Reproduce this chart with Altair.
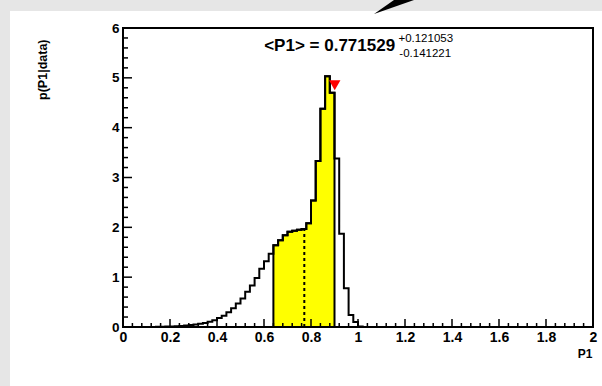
import altair as alt
import pandas as pd

# ---------------- data ----------------
bin_width = 0.02
first_edge = 0.14
density = [0.004, 0.006, 0.008, 0.010, 0.015, 0.020, 0.028, 0.038, 0.050, 0.064,
           0.082, 0.105, 0.135, 0.180, 0.225, 0.295, 0.375, 0.470, 0.570, 0.705,
           0.835, 0.985, 1.170, 1.320, 1.470, 1.640, 1.740, 1.840, 1.910, 1.930,
           1.950, 1.965, 2.080, 2.540, 3.330, 4.380, 5.030, 4.700, 3.380, 1.870,
           0.780, 0.240, 0.100, 0.010]
x_range = [0, 2]
y_range = [0, 6]
mean = 0.771529
err_plus = 0.121053
err_minus = 0.141221
marker_x = [0.901]
marker_y = [4.85]
x_major = [0, 0.2, 0.4, 0.6, 0.8, 1.0, 1.2, 1.4, 1.6, 1.8, 2.0]
y_major = [0, 1, 2, 3, 4, 5, 6]
x_minor_step = 0.04
y_minor_step = 0.2
label_main = "<P1> = 0.771529"
label_plus = "+0.121053"
label_minus = "-0.141221"

# ---------------- tables ----------------
n_bins = round((x_range[1] - x_range[0]) / bin_width)
vals = [0.0] * n_bins
start = round(first_edge / bin_width)
for i, v in enumerate(density):
    vals[start + i] = v
outline = pd.DataFrame(
    [{"x": round(x_range[0] + i * bin_width, 4), "y": vals[i]} for i in range(n_bins)]
    + [{"x": x_range[1], "y": 0.0}]
)
lo, hi = mean - err_minus, mean + err_plus
shade_rows = []
for i in range(n_bins):
    c = x_range[0] + (i + 0.5) * bin_width
    if lo <= c <= hi:
        shade_rows.append({"x": round(x_range[0] + i * bin_width, 4), "y": vals[i]})
shade_rows.append({"x": round(shade_rows[-1]["x"] + bin_width, 4), "y": shade_rows[-1]["y"]})
shade = pd.DataFrame(shade_rows)
mean_df = pd.DataFrame({"x": [mean], "y0": [0.0], "y1": [vals[int(mean / bin_width)]]})
marker_df = pd.DataFrame({"x": marker_x, "y": marker_y})

n_xm = round((x_range[1] - x_range[0]) / x_minor_step)
x_minor = [round(k * x_minor_step, 4) for k in range(n_xm + 1)]
x_minor = [v for v in x_minor if all(abs(v - m) > 1e-6 for m in x_major)]
n_ym = round((y_range[1] - y_range[0]) / y_minor_step)
y_minor = [round(k * y_minor_step, 4) for k in range(n_ym + 1)]
y_minor = [v for v in y_minor if all(abs(v - m) > 1e-6 for m in y_major)]

# ---------------- style ----------------
W, H = 470, 299
PAD_L, PAD_T = 123, 28
FONT = "Liberation Sans"
one = alt.Data(values=[{}])

xs = alt.Scale(domain=x_range, nice=False, zero=False)
ys = alt.Scale(domain=y_range, nice=False, zero=False)
x_axis = alt.Axis(values=x_major, format=".1~f", ticks=False, tickSize=0, domain=False,
                  grid=False, labelFont=FONT, labelFontWeight="bold", labelFontSize=14,
                  labelColor="black", labelPadding=3, labelFlush=False, labelOverlap=False,
                  title="P1", titleFont=FONT, titleFontWeight="bold", titleFontSize=12,
                  titleColor="black", titleAnchor="end", titleAlign="right",
                  titleBaseline="middle", titleX=W - 1, titleY=26, zindex=1)
y_axis = alt.Axis(values=y_major, format="d", ticks=False, tickSize=0, domain=False,
                  grid=False, labelFont=FONT, labelFontWeight="bold", labelFontSize=13.5,
                  labelColor="black", labelPadding=4, labelFlush=False, labelOverlap=False,
                  title="p(P1|data)", titleFont=FONT, titleFontWeight="bold",
                  titleFontSize=12.5, titleColor="black", titleAngle=270,
                  titleAlign="right", titleBaseline="middle", titleX=-81, titleY=11,
                  zindex=1)

def X(f="x"):
    return alt.X(f"{f}:Q", scale=xs, axis=x_axis)

def Y(f="y"):
    return alt.Y(f"{f}:Q", scale=ys, axis=y_axis)

pad = alt.Chart(one).mark_rect(color="white").encode(
    x=alt.value(10 - PAD_L), x2=alt.value(602 - PAD_L),
    y=alt.value(11 - PAD_T), y2=alt.value(386 - PAD_T))

# arrow head at the top edge (decoration)
arrow = alt.Chart(one).mark_point(
    shape="M -1 0.35 L 0.0 -0.35 L 1 -0.35 Z", filled=True, color="black",
    opacity=1, size=1600).encode(x=alt.value(394 - PAD_L), y=alt.value(7 - PAD_T))

area = alt.Chart(shade).mark_area(
    interpolate="step-after", color="#ffff00", fillOpacity=1, stroke="black",
    strokeWidth=2).encode(x=X(), y=Y())

line = alt.Chart(outline).mark_line(
    interpolate="step-after", color="black", strokeWidth=2).encode(x=X(), y=Y())

mean_rule = alt.Chart(mean_df).mark_rule(
    color="black", strokeWidth=2, strokeDash=[3, 3]).encode(
    x=X(), y=Y("y0"), y2="y1:Q")

marker = alt.Chart(marker_df).mark_point(
    shape="triangle-down", filled=True, color="#ff0000", opacity=1, size=130).encode(
    x=X(), y=Y())

ytick_major = alt.Chart(pd.DataFrame({"v": y_major})).mark_rule(
    color="black", strokeWidth=1.5).encode(y=Y("v"), x=alt.value(0), x2=alt.value(9))
ytick_minor = alt.Chart(pd.DataFrame({"v": y_minor})).mark_rule(
    color="black", strokeWidth=1.5).encode(y=Y("v"), x=alt.value(0), x2=alt.value(5))
xtick_major = alt.Chart(pd.DataFrame({"v": x_major})).mark_rule(
    color="black", strokeWidth=1.5).encode(x=X("v"), y=alt.value(H), y2=alt.value(H - 8))
xtick_minor = alt.Chart(pd.DataFrame({"v": x_minor})).mark_rule(
    color="black", strokeWidth=1.5).encode(x=X("v"), y=alt.value(H), y2=alt.value(H - 4))

frame = alt.Chart(one).mark_rect(fill="transparent", stroke="black", strokeWidth=2).encode(
    x=alt.value(0), x2=alt.value(W), y=alt.value(0), y2=alt.value(H))

txt_main = alt.Chart(one).mark_text(
    font=FONT, fontWeight="bold", fontSize=17, align="right", baseline="middle",
    color="black").encode(x=alt.X(datum=1.158, scale=xs, axis=x_axis),
                          y=alt.Y(datum=5.63, scale=ys, axis=y_axis),
                          text=alt.value(label_main))
txt_plus = alt.Chart(one).mark_text(
    font=FONT, fontSize=11.5, align="left", baseline="middle", color="black").encode(
    x=alt.X(datum=1.172, scale=xs, axis=x_axis), y=alt.Y(datum=5.78, scale=ys, axis=y_axis),
    text=alt.value(label_plus))
txt_minus = alt.Chart(one).mark_text(
    font=FONT, fontSize=11.5, align="left", baseline="middle", color="black").encode(
    x=alt.X(datum=1.176, scale=xs, axis=x_axis), y=alt.Y(datum=5.47, scale=ys, axis=y_axis),
    text=alt.value(label_minus))

chart = alt.layer(
    pad, arrow, area, line, mean_rule, marker,
    ytick_major, ytick_minor, xtick_major, xtick_minor, frame,
    txt_main, txt_plus, txt_minus,
).properties(
    width=W, height=H,
    padding={"left": PAD_L, "top": PAD_T, "right": 602 - PAD_L - W, "bottom": 386 - PAD_T - H},
    autosize=alt.AutoSizeParams(type="none"),
    background="#e6e6e6",
).configure_view(strokeWidth=0)

chart.save("out.html", embed_options={"renderer": "svg", "actions": False})
